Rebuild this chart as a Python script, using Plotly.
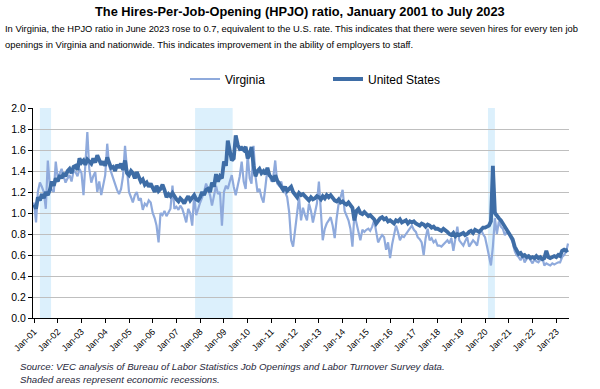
import plotly.graph_objects as go
import pandas as pd

# Monthly observations, Jan 2001 .. Jul 2023
months = pd.date_range("2001-01-01", "2023-07-01", freq="MS")

virginia = [
    1.10, 0.91, 1.20, 1.29, 1.25, 1.20, 1.04, 1.50, 1.26, 1.22, 1.20, 1.49,  # 2001
    1.33, 1.38, 1.42, 1.35, 1.29, 1.33, 1.36, 1.30, 1.40, 1.39, 1.35, 1.42,  # 2002
    1.38, 1.17, 1.45, 1.77, 1.42, 1.29, 1.35, 1.39, 1.20, 1.30, 1.17, 1.28,  # 2003
    1.36, 1.66, 1.45, 1.39, 1.33, 1.29, 1.22, 1.18, 1.23, 1.35, 1.64, 1.42,  # 2004
    1.20, 1.15, 1.10, 1.17, 1.20, 1.12, 1.14, 1.03, 1.09, 1.07, 1.12, 1.10,  # 2005
    1.00, 0.95, 0.88, 0.72, 1.00, 0.98, 1.02, 0.97, 1.01, 1.04, 1.26, 1.04,  # 2006
    1.06, 1.03, 1.07, 1.04, 0.98, 0.91, 1.04, 1.00, 0.88, 1.17, 0.98, 1.05,  # 2007
    1.10, 1.15, 1.20, 1.28, 1.22, 1.17, 1.07, 1.15, 1.26, 1.18, 1.20, 0.88,  # 2008
    1.20, 1.26, 1.23, 1.30, 1.36, 1.25, 1.17, 1.26, 1.35, 1.49, 1.30, 1.23,  # 2009
    1.55, 1.33, 1.28, 1.64, 1.35, 1.20, 1.23, 1.15, 1.10, 1.25, 1.42, 1.36,  # 2010
    1.30, 1.35, 1.50, 1.28, 1.26, 1.30, 1.22, 1.20, 1.15, 1.01, 0.74, 0.68,  # 2011
    0.85, 1.00, 1.15, 0.93, 1.05, 0.98, 0.93, 1.09, 1.02, 0.91, 1.00, 1.09,  # 2012
    1.30, 0.99, 0.74, 0.85, 0.90, 0.93, 0.96, 0.88, 0.76, 0.95, 1.09, 1.15,  # 2013
    1.22, 1.02, 0.97, 0.93, 0.85, 0.68, 0.99, 0.90, 0.84, 0.74, 0.84, 0.82,  # 2014
    0.84, 0.85, 0.83, 0.87, 0.93, 0.80, 0.72, 0.76, 0.79, 0.77, 0.65, 0.72,  # 2015
    0.57, 0.70, 0.80, 0.88, 0.82, 0.74, 0.78, 0.77, 0.80, 0.83, 0.85, 0.88,  # 2016
    0.84, 0.82, 0.77, 0.75, 0.72, 0.60, 0.76, 0.85, 0.74, 0.76, 0.72, 0.74,  # 2017
    0.69, 0.69, 0.68, 0.70, 0.72, 0.74, 0.71, 0.76, 0.64, 0.78, 0.87, 0.74,  # 2018
    0.72, 0.69, 0.73, 0.77, 0.68, 0.71, 0.74, 0.72, 0.69, 0.79, 0.84, 0.80,  # 2019
    0.77, 0.68, 0.58, 0.50, 0.68, 0.95, 0.80, 0.92, 0.87, 0.85, 0.79, 0.82,  # 2020
    0.80, 0.76, 0.72, 0.64, 0.60, 0.58, 0.55, 0.60, 0.53, 0.56, 0.58, 0.55,  # 2021
    0.52, 0.56, 0.54, 0.53, 0.55, 0.58, 0.50, 0.52, 0.51, 0.50, 0.52, 0.51,  # 2022
    0.52, 0.53, 0.53, 0.58, 0.60, 0.63, 0.71,                                # 2023
]

united_states = [
    1.08, 1.04, 1.15, 1.12, 1.18, 1.14, 1.20, 1.17, 1.22, 1.30, 1.26, 1.33,  # 2001
    1.30, 1.36, 1.33, 1.38, 1.35, 1.40, 1.42, 1.38, 1.44, 1.45, 1.41, 1.52,  # 2002
    1.48, 1.50, 1.46, 1.51, 1.49, 1.47, 1.52, 1.48, 1.55, 1.50, 1.46, 1.49,  # 2003
    1.45, 1.53, 1.48, 1.43, 1.44, 1.40, 1.46, 1.43, 1.47, 1.41, 1.50, 1.38,  # 2004
    1.36, 1.40, 1.38, 1.33, 1.39, 1.35, 1.30, 1.32, 1.27, 1.29, 1.25, 1.28,  # 2005
    1.24, 1.20, 1.26, 1.21, 1.23, 1.27, 1.22, 1.15, 1.18, 1.16, 1.19, 1.15,  # 2006
    1.13, 1.11, 1.14, 1.12, 1.09, 1.13, 1.16, 1.12, 1.15, 1.17, 1.13, 1.12,  # 2007
    1.15, 1.20, 1.17, 1.22, 1.23, 1.20, 1.29, 1.25, 1.37, 1.30, 1.35, 1.33,  # 2008
    1.49, 1.45, 1.69, 1.58, 1.50, 1.52, 1.74, 1.65, 1.61, 1.62, 1.60, 1.63,  # 2009
    1.52, 1.56, 1.63, 1.45, 1.35, 1.40, 1.42, 1.38, 1.40, 1.37, 1.43, 1.36,  # 2010
    1.34, 1.30, 1.36, 1.31, 1.28, 1.24, 1.22, 1.25, 1.21, 1.23, 1.25, 1.20,  # 2011
    1.18, 1.15, 1.19, 1.17, 1.18, 1.16, 1.14, 1.12, 1.15, 1.13, 1.14, 1.16,  # 2012
    1.15, 1.13, 1.16, 1.14, 1.17, 1.15, 1.17, 1.14, 1.12, 1.11, 1.13, 1.10,  # 2013
    1.11, 1.09, 1.08, 1.10, 1.07, 1.05, 0.93, 1.02, 1.04, 1.00, 0.99, 1.01,  # 2014
    0.99, 0.97, 0.98, 0.96, 0.94, 0.90, 0.93, 0.95, 0.96, 0.94, 0.95, 0.92,  # 2015
    0.93, 0.91, 0.90, 0.93, 0.92, 0.94, 0.91, 0.92, 0.93, 0.90, 0.92, 0.91,  # 2016
    0.92, 0.90, 0.89, 0.88, 0.90, 0.89, 0.87, 0.89, 0.88, 0.86, 0.87, 0.85,  # 2017
    0.85, 0.84, 0.83, 0.85, 0.84, 0.82, 0.80, 0.79, 0.81, 0.78, 0.80, 0.79,  # 2018
    0.80, 0.81, 0.79, 0.80, 0.82, 0.83, 0.81, 0.84, 0.83, 0.82, 0.84, 0.86,  # 2019
    0.86, 0.87, 0.88, 0.92, 1.45, 1.00, 0.97, 0.95, 0.93, 0.90, 0.88, 0.85,  # 2020
    0.82, 0.78, 0.75, 0.68, 0.64, 0.61, 0.62, 0.59, 0.60, 0.58, 0.59, 0.57,  # 2021
    0.58, 0.57, 0.59, 0.57, 0.58, 0.56, 0.57, 0.64, 0.58, 0.57, 0.58, 0.59,  # 2022
    0.58, 0.60, 0.59, 0.64, 0.65, 0.64, 0.65,                                # 2023
]

# Recession periods shaded on the chart (start, end)
recessions = [
    ("2001-04-01", "2001-09-20"),
    ("2007-10-15", "2009-05-15"),
    ("2020-02-15", "2020-06-01"),
]

y_ticks = [0.0, 0.2, 0.4, 0.6, 0.8, 1.0, 1.2, 1.4, 1.6, 1.8, 2.0]

title_text = "The Hires-Per-Job-Opening (HPJO) ratio, January 2001 to July 2023"
subtitle_lines = [
    "In Virginia, the HPJO ratio in June 2023 rose to 0.7, equivalent to the U.S. rate. This indicates that there were seven hires for every ten job",
    "openings in Virginia and nationwide. This indicates improvement in the ability of employers to staff.",
]
source_lines = [
    "Source: VEC analysis of Bureau of Labor Statistics Job Openings and Labor Turnover Survey data.",
    "Shaded areas represent economic recessions.",
]

FONT = "Liberation Sans Narrow, Arial Narrow, Liberation Sans, Arial, sans-serif"

# plot-area geometry (pixels)
L, R, T, B = 33, 569, 108, 318
W, H = R - L, B - T


def px2paper(px, py):
    return (px - L) / W, (B - py) / H


fig = go.Figure()
fig.add_trace(go.Scatter(
    x=months, y=virginia, mode="lines", name="Virginia",
    line=dict(color="#8FAADC", width=2.2),
))
fig.add_trace(go.Scatter(
    x=months, y=united_states, mode="lines", name="United States",
    line=dict(color="#3E6DA6", width=3.8),
))

for start, end in recessions:
    fig.add_shape(type="rect", xref="x", yref="y", x0=start, x1=end, y0=0, y1=2.0,
                  fillcolor="#DCF0FC", line=dict(width=0), layer="below")

lx, ly = px2paper(185, 79)
fig.update_layout(
    width=600, height=389,
    margin=dict(l=L, r=600 - R, t=T, b=389 - B, autoexpand=False),
    paper_bgcolor="white", plot_bgcolor="white",
    font=dict(family=FONT, color="#000000", size=11),
    showlegend=True,
    legend=dict(orientation="h", x=lx, xanchor="left", y=ly, yanchor="middle",
                font=dict(size=12, family=FONT), entrywidth=98, entrywidthmode="pixels",
                itemwidth=30, bgcolor="rgba(0,0,0,0)"),
)

fig.update_xaxes(
    type="date", range=["2000-12-16", "2023-07-16"],
    tick0="2001-01-01", dtick="M12", tickformat="%b-%y", tickangle=-45,
    showgrid=False, showline=True, linecolor="#000000", linewidth=1,
    ticks="outside", ticklen=4, tickcolor="#000000",
    tickfont=dict(size=9, family=FONT), zeroline=False, automargin=False,
)
fig.update_yaxes(
    range=[0, 2.0], tickvals=y_ticks, tickformat=".1f",
    showgrid=True, gridcolor="#BFBFBF", gridwidth=1,
    showline=True, linecolor="#000000", linewidth=1,
    ticks="outside", ticklen=4, tickcolor="#000000",
    tickfont=dict(size=10.5, family=FONT), zeroline=False, automargin=False,
)

texts = [
    ("<b>" + title_text + "</b>", 300, 11, 12.8, "center", "#000000"),
    (subtitle_lines[0], 3, 28, 9.4, "left", "#000000"),
    (subtitle_lines[1], 3, 45, 9.4, "left", "#000000"),
    ("<i>" + source_lines[0] + "</i>", 18, 366, 9.7, "left", "#1F1F3A"),
    ("<i>" + source_lines[1] + "</i>", 18, 379, 9.7, "left", "#1F1F3A"),
]
for txt, px, py, size, anchor, color in texts:
    ax, ay = px2paper(px, py)
    fig.add_annotation(text=txt, x=ax, y=ay, xref="paper", yref="paper",
                       xanchor=anchor, yanchor="middle", showarrow=False,
                       font=dict(size=size, family=FONT, color=color))

fig.write_html("out.html", config={"displayModeBar": False},
               post_script="document.body.style.margin='0';document.body.style.padding='0';")
